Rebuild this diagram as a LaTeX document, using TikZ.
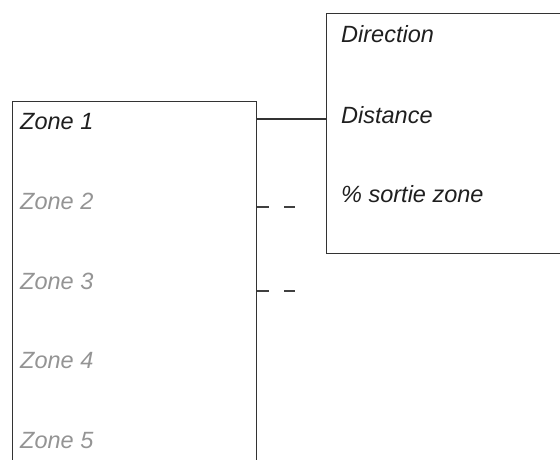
\documentclass[tikz,border=0pt]{standalone}
\usepackage{fontspec}
\setmainfont{Liberation Sans}
\begin{document}
\begin{tikzpicture}[x=1pt,y=-1pt,
  boxstyle/.style={draw=black!80, line width=1.3pt, inner sep=0pt, rectangle},
  lbl/.style={anchor=west, inner sep=0pt, font=\fontsize{23.5}{28}\selectfont\itshape},
  dark/.style={lbl, text=black!88},
  grey/.style={lbl, text=black!42},
  link/.style={draw=black!80, line width=1.3pt},
  dashlink/.style={draw=black!75, line width=1.3pt, dash pattern=on 12pt off 15pt}]
\useasboundingbox (0,0) rectangle (560,459);
\clip (0,0) rectangle (560,459);
% boxes
\node[boxstyle, minimum width=244pt, minimum height=380pt, anchor=north west] (zones) at (12,100.7) {};
\node[boxstyle, minimum width=250pt, minimum height=240pt, anchor=north west] (info) at (326,13) {};
% zone labels
\node[dark] (z1) at (20,121.5) {Zone 1};
\node[grey] (z2) at (20,201) {Zone 2};
\node[grey] (z3) at (20,281) {Zone 3};
\node[grey] (z4) at (20,361) {Zone 4};
\node[grey] (z5) at (20,441) {Zone 5};
% info labels
\node[dark] (dir) at (341,34) {Direction};
\node[dark] (dist) at (341,115) {Distance};
\node[dark] (sort) at (341,194) {\% sortie zone};
% connectors
\coordinate (a1) at (256,119);
\draw[link] (zones.east |- a1) -- (info.west |- a1);
\coordinate (d2) at (295,207);
\coordinate (d3) at (295,291);
\draw[dashlink] (zones.east |- d2) -- (d2);
\draw[dashlink] (zones.east |- d3) -- (d3);
\end{tikzpicture}
\end{document}
